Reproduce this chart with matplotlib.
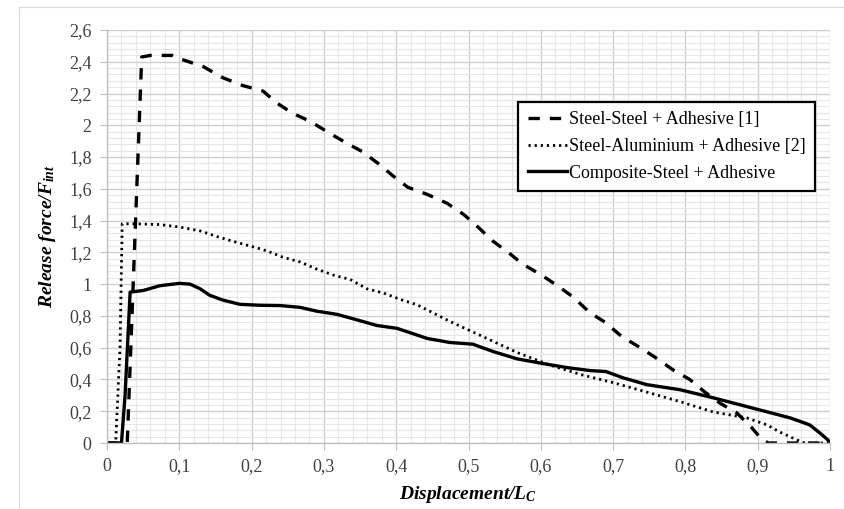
import matplotlib
matplotlib.use("Agg")
import matplotlib.pyplot as plt
from matplotlib.ticker import MultipleLocator, FuncFormatter
from matplotlib.patches import Rectangle

plt.rcParams['font.family'] = ['Liberation Serif', 'DejaVu Serif']
plt.rcParams['mathtext.fontset'] = 'custom'
plt.rcParams['mathtext.it'] = 'Liberation Serif:bold:italic'
plt.rcParams['mathtext.rm'] = 'Liberation Serif:bold:italic'

# Steel-Steel + Adhesive [1]
ss_x = [0.0, 0.02, 0.028, 0.048, 0.06, 0.09, 0.10, 0.133, 0.16, 0.188, 0.216, 0.235,
        0.257, 0.281, 0.308, 0.332, 0.353, 0.375, 0.396, 0.416, 0.443, 0.47, 0.493,
        0.513, 0.534, 0.555, 0.575, 0.60, 0.624, 0.645, 0.668, 0.689, 0.712, 0.734,
        0.758, 0.783, 0.806, 0.827, 0.848, 0.871, 0.892, 0.906, 0.915, 1.0]
ss_y = [0.0, 0.0, 0.0, 2.43, 2.44, 2.44, 2.42, 2.37, 2.30, 2.25, 2.215, 2.14,
        2.075, 2.025, 1.95, 1.886, 1.835, 1.76, 1.68, 1.61, 1.565, 1.51, 1.44,
        1.36, 1.27, 1.20, 1.126, 1.06, 0.987, 0.918, 0.82, 0.76, 0.67, 0.61,
        0.54, 0.46, 0.40, 0.32, 0.25, 0.19, 0.095, 0.02, 0.0, 0.0]

# Steel-Aluminium + Adhesive [2]
sa_x = [0.0, 0.012, 0.018, 0.021, 0.036, 0.073, 0.10, 0.129, 0.152, 0.174, 0.198,
        0.221, 0.243, 0.267, 0.29, 0.313, 0.336, 0.36, 0.382, 0.405, 0.429, 0.474,
        0.52, 0.567, 0.613, 0.656, 0.70, 0.747, 0.793, 0.838, 0.885, 0.913, 0.93,
        0.954, 0.965, 1.0]
sa_y = [0.0, 0.0, 0.6, 1.38, 1.38, 1.375, 1.36, 1.335, 1.30, 1.27, 1.24,
        1.21, 1.17, 1.14, 1.095, 1.057, 1.03, 0.97, 0.945, 0.905, 0.87, 0.766,
        0.67, 0.57, 0.49, 0.43, 0.38, 0.32, 0.26, 0.196, 0.158, 0.114, 0.07,
        0.02, 0.0, 0.0]

# Composite-Steel + Adhesive
cs_x = [0.0, 0.02, 0.025, 0.032, 0.05, 0.073, 0.10, 0.115, 0.129, 0.142, 0.16, 0.184,
        0.212, 0.24, 0.267, 0.29, 0.318, 0.346, 0.373, 0.401, 0.443, 0.474, 0.506,
        0.534, 0.567, 0.603, 0.636, 0.668, 0.69, 0.714, 0.747, 0.793, 0.838, 0.876,
        0.913, 0.945, 0.972, 0.986, 0.997, 1.0]
cs_y = [0.0, 0.0, 0.3, 0.95, 0.96, 0.99, 1.005, 1.0, 0.97, 0.93, 0.90, 0.873,
        0.867, 0.865, 0.854, 0.83, 0.81, 0.775, 0.74, 0.722, 0.658, 0.633, 0.622,
        0.576, 0.53, 0.50, 0.475, 0.456, 0.45, 0.41, 0.367, 0.335, 0.285, 0.24,
        0.196, 0.158, 0.114, 0.063, 0.02, 0.0]

labels = ['Steel-Steel + Adhesive [1]', 'Steel-Aluminium + Adhesive [2]',
          'Composite-Steel + Adhesive']

fig = plt.figure(figsize=(8.45, 5.09), dpi=100)
ax = fig.add_axes([107 / 845, 66 / 509, 723 / 845, 413 / 509])

# light frame around the whole chart area
fig.patches.append(Rectangle((19 / 845, -0.01), 0.99, 502 / 509 + 0.01,
                             transform=fig.transFigure, fill=False,
                             edgecolor='#d9d9d9', lw=0.8))

ax.plot(ss_x, ss_y, color='black', lw=2.4, dashes=(3.4, 3.0), label=labels[0])
ax.plot(sa_x, sa_y, color='black', lw=2.0, dashes=(0.8, 1.4), label=labels[1])
ax.plot(cs_x, cs_y, color='black', lw=2.4, label=labels[2])

ax.set_xlim(0, 1)
ax.set_ylim(0, 2.6)
ax.xaxis.set_major_locator(MultipleLocator(0.1))
ax.xaxis.set_minor_locator(MultipleLocator(0.02))
ax.yaxis.set_major_locator(MultipleLocator(0.2))
ax.yaxis.set_minor_locator(MultipleLocator(0.04))

comma = FuncFormatter(lambda v, p: f'{round(v, 2):g}'.replace('.', ','))
ax.xaxis.set_major_formatter(comma)
ax.yaxis.set_major_formatter(comma)

ax.grid(which='major', color='#cfcfcf', lw=1.0)
ax.grid(which='minor', color='#e6e6e6', lw=0.8)
ax.set_axisbelow(True)

for s in ['top', 'right']:
    ax.spines[s].set_visible(False)
for s in ['left', 'bottom']:
    ax.spines[s].set_color('#bfbfbf')
    ax.spines[s].set_linewidth(1.0)

ax.tick_params(which='major', length=5, color='#bfbfbf', labelsize=13,
               labelcolor='#404040', pad=6)
ax.tick_params(which='minor', length=0)

ax.set_xlabel('Displacement/$L_C$', fontsize=14, fontweight='bold',
              fontstyle='italic', labelpad=6)
ax.set_ylabel('Release force/$F_{int}$', fontsize=14, fontweight='bold',
              fontstyle='italic', labelpad=8)

leg = ax.legend(loc='upper right', bbox_to_anchor=(0.979, 0.826), fontsize=13,
                frameon=True, fancybox=False, edgecolor='black',
                handlelength=2.2, handletextpad=0.1, borderpad=0.5,
                labelspacing=0.55, borderaxespad=0)
leg.get_frame().set_linewidth(1.6)
leg.get_frame().set_alpha(1)

fig.savefig('out.png', dpi=100)
